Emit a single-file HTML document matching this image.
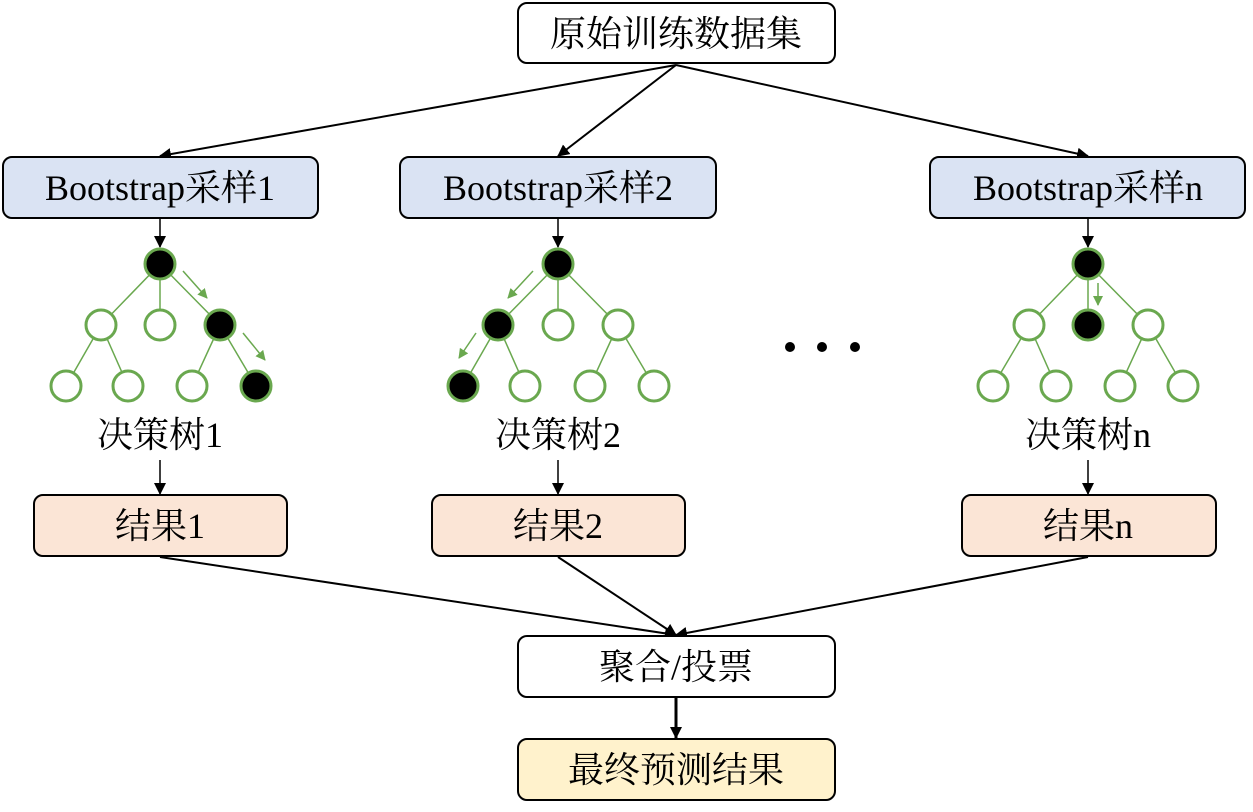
<!DOCTYPE html>
<html><head><meta charset="utf-8"><style>
body{margin:0;background:#fff}
text{font-family:"Liberation Serif","Noto Serif CJK SC",serif;font-size:36px;fill:#000}
</style></head><body>
<svg width="1253" height="807" xmlns="http://www.w3.org/2000/svg">
<defs>
<marker id="a" markerWidth="12" markerHeight="12" refX="11" refY="6" orient="auto" markerUnits="userSpaceOnUse"><path d="M0,0 L12,6 L0,12 z" fill="#000"/></marker>
<marker id="g" markerWidth="10" markerHeight="10" refX="9" refY="5" orient="auto" markerUnits="userSpaceOnUse"><path d="M0,0 L10,5 L0,10 z" fill="#6aa84f"/></marker>
</defs>
<g stroke="#000" stroke-width="2" fill="none" marker-end="url(#a)">
<line x1="676" y1="65" x2="160" y2="156"/>
<line x1="676" y1="65" x2="558" y2="156"/>
<line x1="676" y1="65" x2="1088" y2="156"/>
<line x1="160" y1="557" x2="676" y2="635"/>
<line x1="558" y1="557" x2="676" y2="635"/>
<line x1="1088" y1="557" x2="676" y2="635"/>
<line x1="160" y1="218" x2="160" y2="247" stroke-width="1.5"/>
<line x1="558" y1="218" x2="558" y2="247" stroke-width="1.5"/>
<line x1="1088" y1="218" x2="1088" y2="247" stroke-width="1.5"/>
<line x1="160" y1="460" x2="160" y2="494" stroke-width="1.5"/>
<line x1="558" y1="460" x2="558" y2="494" stroke-width="1.5"/>
<line x1="1088" y1="460" x2="1088" y2="494" stroke-width="1.5"/>
<line x1="676" y1="698" x2="676" y2="738" stroke-width="3"/>
</g>
<g stroke="#000" stroke-width="2">
<rect x="518" y="3" width="317" height="60" rx="9" fill="#fff"/>
<rect x="3" y="157" width="315" height="61" rx="9" fill="#dae3f3"/>
<rect x="400" y="157" width="316" height="61" rx="9" fill="#dae3f3"/>
<rect x="930" y="157" width="315" height="61" rx="9" fill="#dae3f3"/>
<rect x="34" y="495" width="253" height="61" rx="9" fill="#fbe5d6"/>
<rect x="432" y="495" width="253" height="61" rx="9" fill="#fbe5d6"/>
<rect x="962" y="495" width="254" height="61" rx="9" fill="#fbe5d6"/>
<rect x="518" y="636" width="317" height="61" rx="9" fill="#fff"/>
<rect x="518" y="739" width="317" height="61" rx="9" fill="#fff2cc"/>
</g>
<g text-anchor="middle">
<text x="676" y="46">原始训练数据集</text>
<text x="160" y="200">Bootstrap采样1</text>
<text x="558" y="200">Bootstrap采样2</text>
<text x="1088" y="200">Bootstrap采样n</text>
<text x="160" y="447">决策树1</text>
<text x="558" y="447">决策树2</text>
<text x="1088" y="447">决策树n</text>
<text x="160" y="538">结果1</text>
<text x="558" y="538">结果2</text>
<text x="1088" y="538">结果n</text>
<text x="676" y="679">聚合/投票</text>
<text x="676" y="782">最终预测结果</text>
</g>
<g stroke="#6aa84f" stroke-width="1.5">
<line x1="160" y1="264" x2="101" y2="325"/><line x1="160" y1="264" x2="160" y2="325"/><line x1="160" y1="264" x2="220" y2="325"/>
<line x1="101" y1="325" x2="66" y2="386"/><line x1="101" y1="325" x2="128" y2="386"/><line x1="220" y1="325" x2="192" y2="386"/><line x1="220" y1="325" x2="256" y2="386"/>
<line x1="558" y1="264" x2="498" y2="325"/><line x1="558" y1="264" x2="558" y2="325"/><line x1="558" y1="264" x2="618" y2="325"/>
<line x1="498" y1="325" x2="463" y2="386"/><line x1="498" y1="325" x2="525" y2="386"/><line x1="618" y1="325" x2="590" y2="386"/><line x1="618" y1="325" x2="654" y2="386"/>
<line x1="1088" y1="264" x2="1029" y2="325"/><line x1="1088" y1="264" x2="1088" y2="325"/><line x1="1088" y1="264" x2="1148" y2="325"/>
<line x1="1029" y1="325" x2="993" y2="386"/><line x1="1029" y1="325" x2="1056" y2="386"/><line x1="1148" y1="325" x2="1120" y2="386"/><line x1="1148" y1="325" x2="1183" y2="386"/>
</g>
<g stroke="#6aa84f" stroke-width="1.5" marker-end="url(#g)">
<line x1="183" y1="271" x2="207" y2="298"/>
<line x1="243" y1="333" x2="265" y2="360"/>
<line x1="533" y1="271" x2="508" y2="298"/>
<line x1="476" y1="333" x2="459" y2="358"/>
<line x1="1098" y1="283" x2="1098" y2="305"/>
</g>
<g stroke="#6aa84f" stroke-width="3" fill="#fff">
<circle cx="160" cy="264" r="15" fill="#000"/><circle cx="101" cy="325" r="15"/><circle cx="160" cy="325" r="15"/><circle cx="220" cy="325" r="15" fill="#000"/>
<circle cx="66" cy="386" r="15"/><circle cx="128" cy="386" r="15"/><circle cx="192" cy="386" r="15"/><circle cx="256" cy="386" r="15" fill="#000"/>
<circle cx="558" cy="264" r="15" fill="#000"/><circle cx="498" cy="325" r="15" fill="#000"/><circle cx="558" cy="325" r="15"/><circle cx="618" cy="325" r="15"/>
<circle cx="463" cy="386" r="15" fill="#000"/><circle cx="525" cy="386" r="15"/><circle cx="590" cy="386" r="15"/><circle cx="654" cy="386" r="15"/>
<circle cx="1088" cy="264" r="15" fill="#000"/><circle cx="1029" cy="325" r="15"/><circle cx="1088" cy="325" r="15" fill="#000"/><circle cx="1148" cy="325" r="15"/>
<circle cx="993" cy="386" r="15"/><circle cx="1056" cy="386" r="15"/><circle cx="1120" cy="386" r="15"/><circle cx="1183" cy="386" r="15"/>
</g>
<circle cx="790" cy="347" r="5"/><circle cx="822" cy="347" r="5"/><circle cx="855" cy="347" r="5"/>
</svg>
</body></html>
